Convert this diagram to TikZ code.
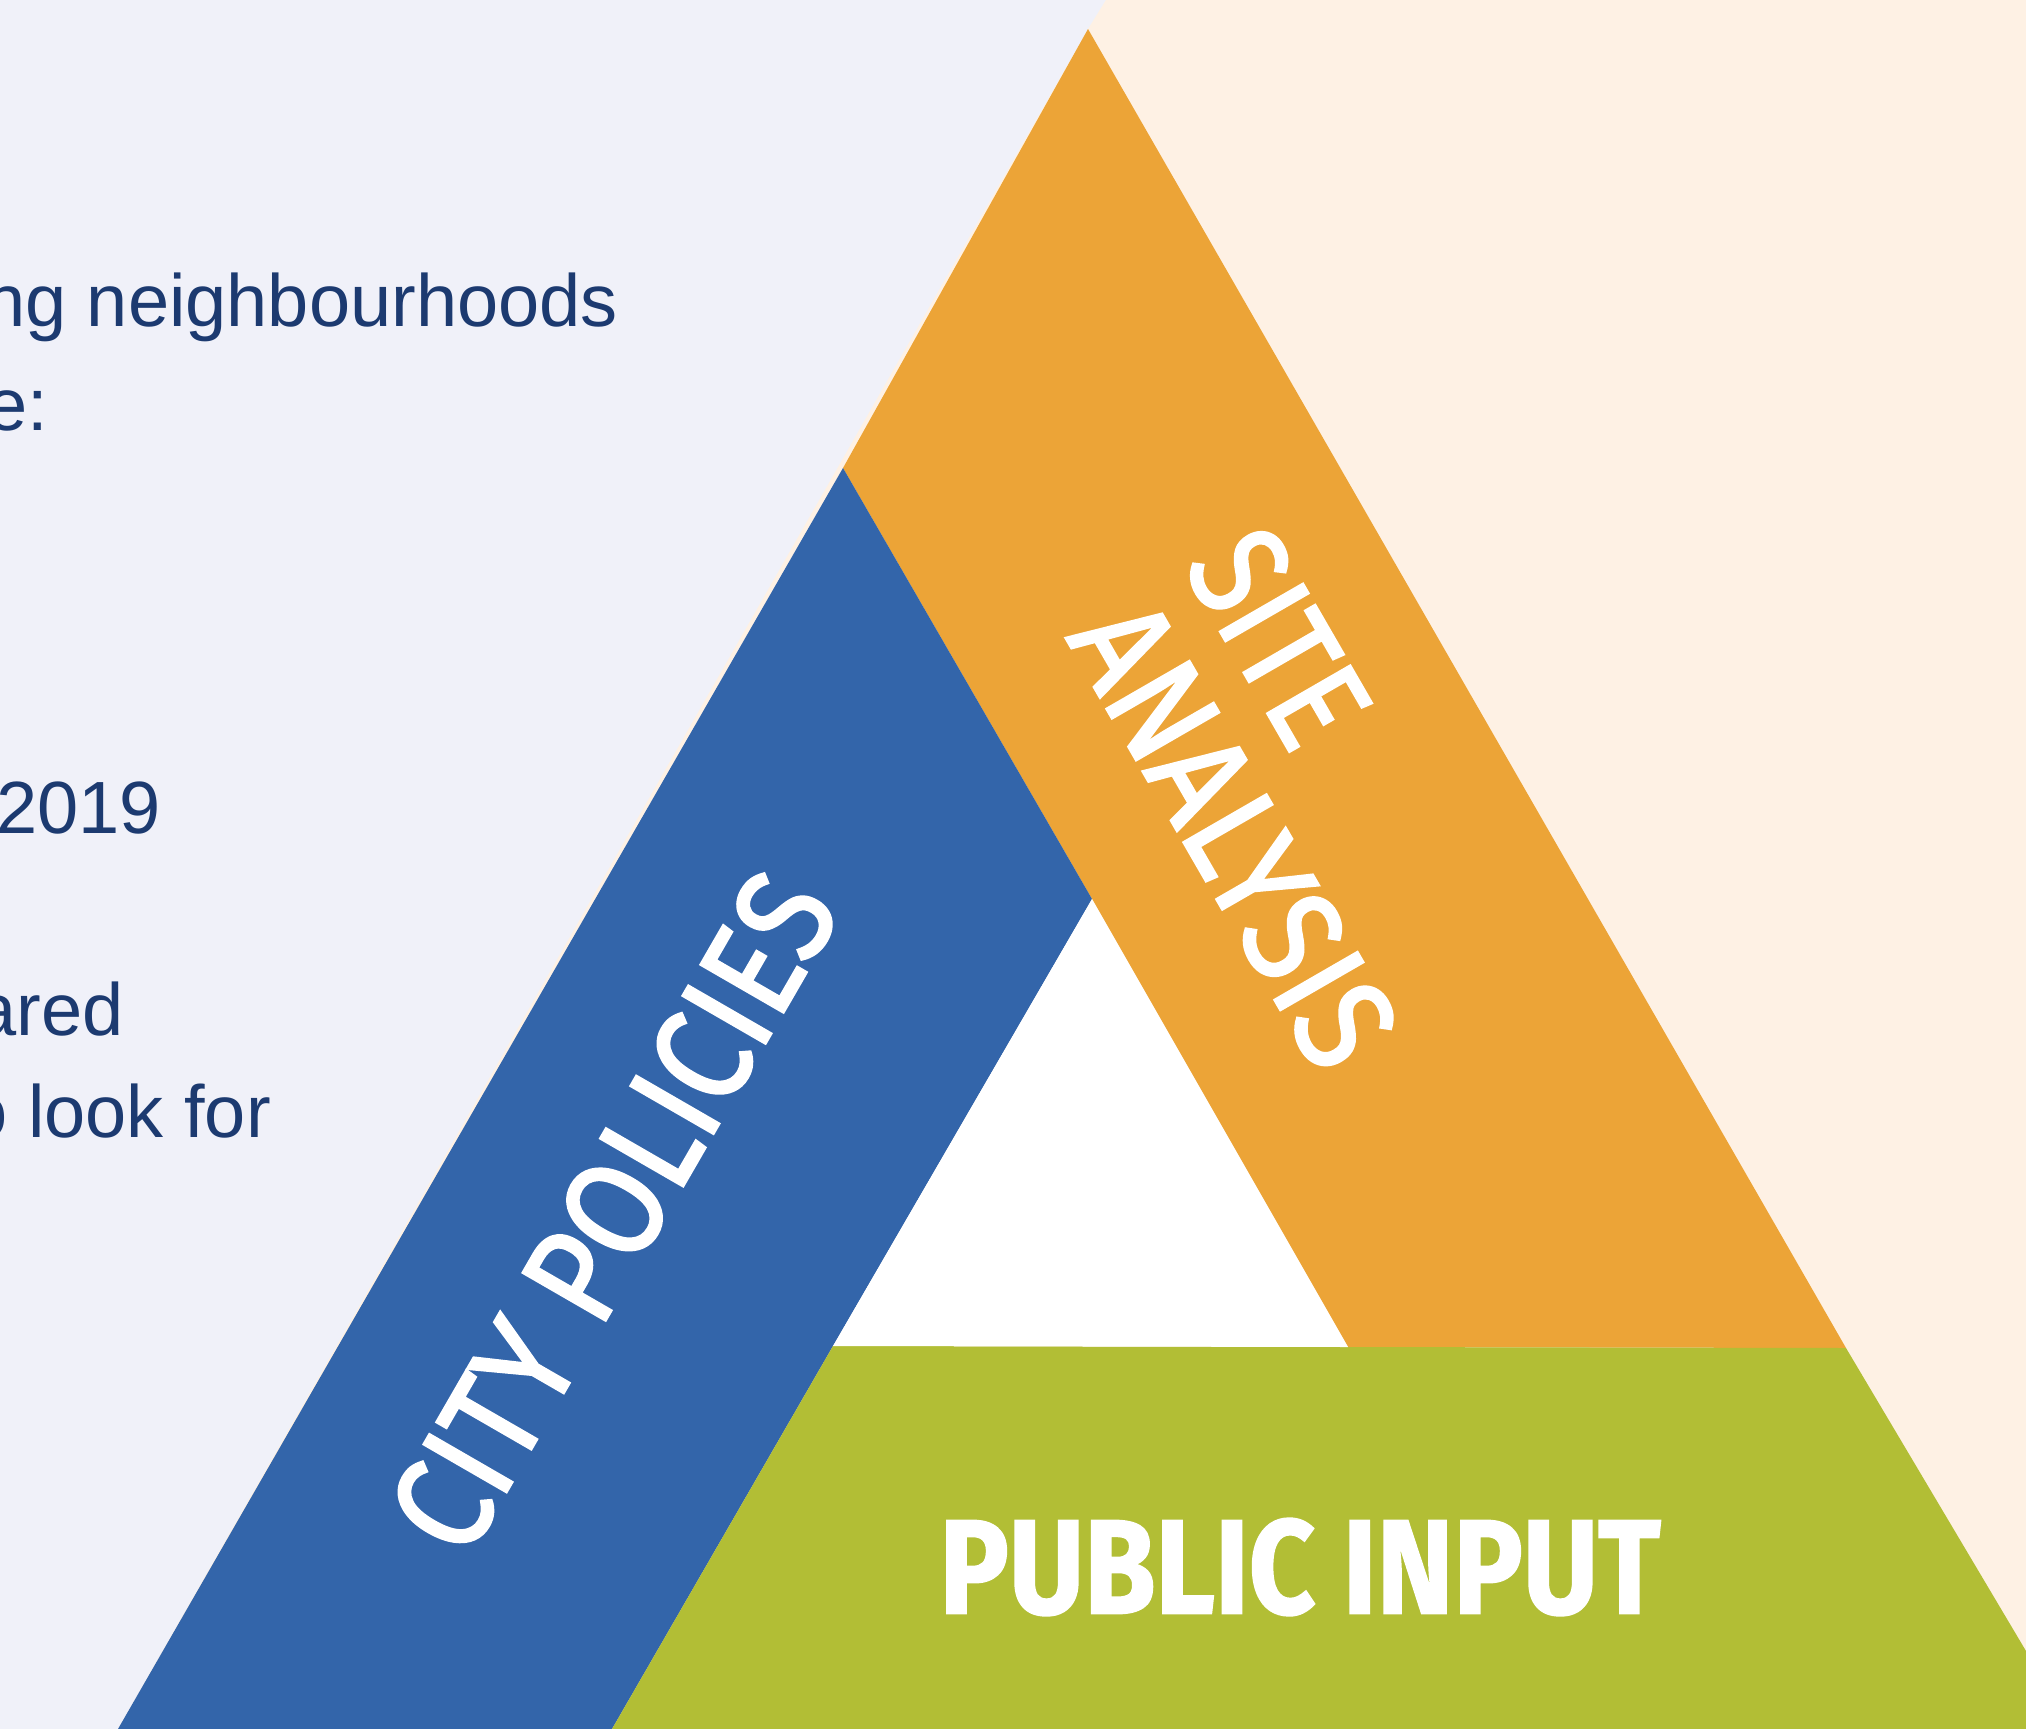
\documentclass[tikz,border=0pt]{standalone}
\usepackage{fontspec}
\setmainfont{Liberation Sans}
\newfontfamily\bandfont[FakeBold=2]{Fira Sans}
\newfontfamily\publicfont[FakeBold=1.5]{Fira Sans Bold}

\definecolor{lavender}{HTML}{F0F1F9}
\definecolor{peach}{HTML}{FEF1E4}
\definecolor{cityblue}{HTML}{3365AA}
\definecolor{siteorange}{HTML}{ECA437}
\definecolor{publicgreen}{HTML}{B2BE35}
\definecolor{textnavy}{HTML}{1C3A70}

\begin{document}
\begin{tikzpicture}[x=1bp,y=-1bp]
\tikzset{bandlabel/.style={white, inner sep=0pt, font=\bandfont},
         sidetext/.style={textnavy, inner sep=0pt, anchor=base east,
                          font=\fontsize{74bp}{88bp}\selectfont}}
\useasboundingbox (0,0) rectangle (2026,1729);
\clip (0,0) rectangle (2026,1729);

\coordinate (apex) at (1088,29);
\coordinate (outerleft) at (843,468);
\coordinate (bottomleft) at (118,1729);
\coordinate (innertop) at (1092,899);
\coordinate (innerleft) at (833,1346);
\coordinate (innerright) at (1348,1347);
\coordinate (outerright) at (1846,1348);
\coordinate (bluefoot) at (612,1729);
\coordinate (greenedge) at (2026,1651);

% background halves
\fill[lavender] (0,0) rectangle (2026,1729);
\fill[peach] (1106,0) -- (2026,0) -- (2026,1729) -- (bottomleft) -- (apex) -- cycle;

% the three bands
\fill[siteorange] (apex) -- (outerleft) -- (innertop) -- (innerright) -- (outerright) -- cycle;
\fill[cityblue] (outerleft) -- (bottomleft) -- (bluefoot) -- (innerleft) -- (innertop) -- cycle;
\fill[publicgreen] (innerleft) -- (bluefoot) -- (2026,1729) -- (greenedge) -- (outerright) -- (innerright) -- cycle;
\fill[white] (innertop) -- (innerleft) -- (innerright) -- cycle;

\node[bandlabel, rotate=60] (citypolicies) at (613,1212) {\resizebox{752bp}{97bp}{CITY POLICIES}};
\node[bandlabel, rotate=-60] (site) at (1279,638) {\resizebox{220bp}{97bp}{SITE}};
\node[bandlabel, rotate=-60] (analysis) at (1234,834) {\resizebox{509bp}{97bp}{ANALYSIS}};
\node[bandlabel, font=\publicfont] (publicinput) at (1300,1567) {\resizebox{721bp}{95bp}{PUBLIC INPUT}};

% text cut off at the left
\node[sidetext] (line1) at (618,326) {ng neighbourhoods};
\node[sidetext] (line2) at (48,430) {e:};
\node[sidetext] (line3) at (161,833) {2019};
\node[sidetext] (line4) at (124,1035) {ared};
\node[sidetext] (line5) at (271,1137) {o look for};
\end{tikzpicture}
\end{document}
